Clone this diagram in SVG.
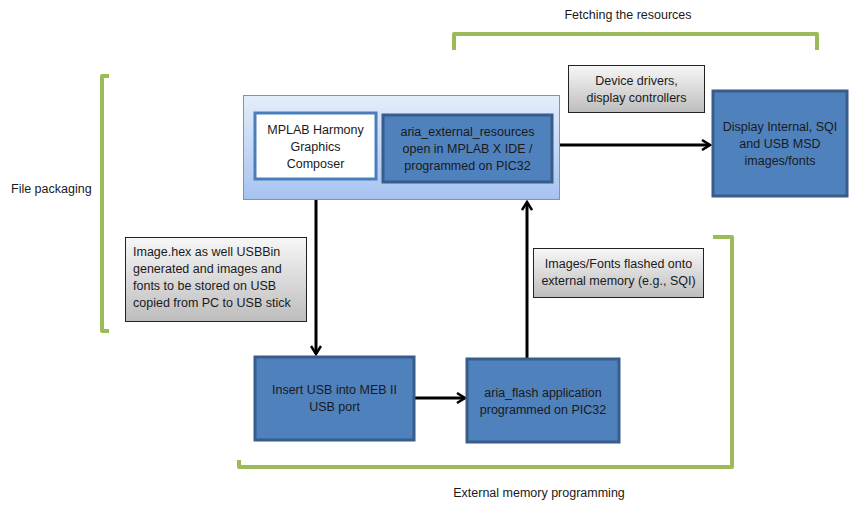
<svg xmlns="http://www.w3.org/2000/svg" width="859" height="510" viewBox="0 0 859 510">
<defs>
<linearGradient id="gOuter" x1="0" y1="0" x2="0" y2="1">
<stop offset="0" stop-color="#e4edfb"/>
<stop offset="1" stop-color="#a6c3f0"/>
</linearGradient>
<linearGradient id="gGrey" x1="0" y1="0" x2="0" y2="1">
<stop offset="0" stop-color="#f7f7f7"/>
<stop offset="1" stop-color="#bdbdbd"/>
</linearGradient>
<marker id="arr" viewBox="0 0 12 12" refX="10" refY="6" markerWidth="12" markerHeight="12" markerUnits="userSpaceOnUse" orient="auto">
<path d="M2,1 L10,6 L2,11" fill="none" stroke="#000" stroke-width="2.5"/>
</marker>
</defs>
<style>
text{font-family:"Liberation Sans",Arial,sans-serif;font-size:12.5px;fill:#1a1a1a}
.c{text-anchor:middle}
.blue{fill:#4f81bd;stroke:#385d8a;stroke-width:3}
.grey{fill:url(#gGrey);stroke:#222;stroke-width:1}
.brk{fill:none;stroke:#9bbb59;stroke-width:4;stroke-linejoin:round}
.con{fill:none;stroke:#000;stroke-width:3;marker-end:url(#arr)}
</style>
<rect width="859" height="510" fill="#fff"/>

<g id="brackets">
<path class="brk" d="M454,50 L454,34 L817,34 L817,50"/>
<path class="brk" d="M109,76 L102,76 L102,331 L109,331"/>
<path class="brk" d="M713,237 L732,237 L732,467 L239,467 L239,460"/>
</g>

<g id="labels">
<text class="c" x="628" y="19">Fetching the resources</text>
<text x="11" y="193">File packaging</text>
<text class="c" x="539" y="497">External memory programming</text>
</g>

<g id="connectors">
<line class="con" x1="316" y1="200" x2="316" y2="354"/>
<line class="con" x1="414" y1="398" x2="465" y2="398"/>
<line class="con" x1="527" y1="358" x2="527" y2="202"/>
<line class="con" x1="560" y1="145" x2="710" y2="145"/>
</g>

<g id="composer-group">
<rect x="243.5" y="95.5" width="316" height="104" fill="url(#gOuter)" stroke="#6f95cf" stroke-width="1"/>
</g>

<g id="mplab-composer">
<rect x="255" y="113" width="121" height="66" fill="#fff" stroke="#4a7ebb" stroke-width="3"/>
<text class="c" x="315.5" y="134">MPLAB Harmony</text>
<text class="c" x="315.5" y="151">Graphics</text>
<text class="c" x="315.5" y="168">Composer</text>
</g>

<g id="aria-external">
<rect class="blue" x="383" y="115" width="169" height="67"/>
<text class="c" x="467.5" y="136">aria_external_resources</text>
<text class="c" x="467.5" y="153">open in MPLAB X IDE /</text>
<text class="c" x="467.5" y="170">programmed on PIC32</text>
</g>

<g id="device-drivers">
<rect class="grey" x="568.5" y="65.5" width="136" height="47"/>
<text class="c" x="636.5" y="85">Device drivers,</text>
<text class="c" x="636.5" y="102">display controllers</text>
</g>

<g id="display">
<rect class="blue" x="713" y="91" width="134" height="105"/>
<text class="c" x="780" y="131">Display Internal, SQI</text>
<text class="c" x="780" y="148">and USB MSD</text>
<text class="c" x="780" y="165">images/fonts</text>
</g>

<g id="image-hex">
<rect class="grey" x="125.5" y="237.5" width="181" height="84"/>
<text x="133" y="256">Image.hex as well USBBin</text>
<text x="133" y="273">generated and images and</text>
<text x="133" y="290">fonts to be stored on USB</text>
<text x="133" y="307">copied from PC to USB stick</text>
</g>

<g id="insert-usb">
<rect class="blue" x="255" y="357" width="159" height="83"/>
<text class="c" x="334.5" y="394">Insert USB into MEB II</text>
<text class="c" x="334.5" y="411">USB port</text>
</g>

<g id="aria-flash">
<rect class="blue" x="467" y="359" width="152" height="83"/>
<text class="c" x="543" y="397">aria_flash application</text>
<text class="c" x="543" y="414">programmed on PIC32</text>
</g>

<g id="images-flashed">
<rect class="grey" x="533.5" y="248.5" width="170" height="49"/>
<text class="c" x="618.5" y="268">Images/Fonts flashed onto</text>
<text class="c" x="618.5" y="285">external memory (e.g., SQI)</text>
</g>
</svg>
